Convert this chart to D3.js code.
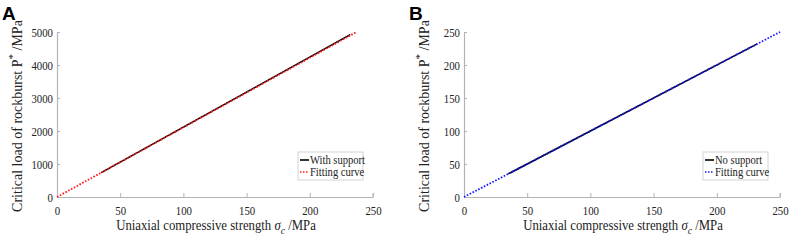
<!DOCTYPE html>
<html>
<head>
<meta charset="utf-8">
<script src="https://cdn.jsdelivr.net/npm/d3@7"></script>
<style>
  body { margin: 0; background: #fff; }
  svg text { font-family: "Liberation Serif", "Times New Roman", serif; }
</style>
</head>
<body>
<div id="chart"></div>
<script>
// panel A: with support
const supportStrength = [35, 232];
const supportLoad = [740, 4920];
const fitStrengthA = [0, 237];
const fitLoadA = [0, 5000];
const yTicksA = [0, 1000, 2000, 3000, 4000, 5000];

// panel B: no support
const noSupportStrength = [35, 232];
const noSupportLoad = [35, 232];
const fitStrengthB = [0, 250];
const fitLoadB = [0, 250];
const yTicksB = [0, 50, 100, 150, 200, 250];

const xTicks = [0, 50, 100, 150, 200, 250];

const svg = d3.select("#chart").append("svg")
    .attr("width", 789)
    .attr("height", 241);

const axisColor = "#b4b4b4";
const textColor = "#222";

function drawPanel(opt) {
    const x = d3.scaleLinear().domain([0, 250]).range([opt.left, opt.left + 316]);
    const y = d3.scaleLinear().domain([0, opt.yMax]).range([197, 32]);
    const g = svg.append("g");

    // panel letter
    g.append("text")
        .attr("x", opt.left - 55)
        .attr("y", 20)
        .style("font-family", "'Liberation Sans', Arial, sans-serif")
        .style("font-weight", "bold")
        .style("font-size", "19px")
        .text(opt.letter);

    // axes
    const xAxis = g.append("g")
        .attr("transform", "translate(0,197)")
        .call(d3.axisBottom(x).tickValues(xTicks).tickFormat(d3.format("d"))
            .tickSizeInner(-4).tickSizeOuter(0).tickPadding(8));
    const yAxis = g.append("g")
        .attr("transform", `translate(${opt.left},0)`)
        .call(d3.axisLeft(y).tickValues(opt.yTicks).tickFormat(d3.format("d"))
            .tickSizeInner(-3).tickSizeOuter(0).tickPadding(5));
    [xAxis, yAxis].forEach(a => {
        a.attr("font-size", 13.5);
        a.select(".domain").attr("stroke", axisColor).attr("stroke-width", 1.2);
        a.selectAll(".tick line").attr("stroke", axisColor);
        a.selectAll(".tick text")
            .attr("fill", textColor)
            .attr("transform", "scale(0.8,1)");
    });
    // right-end tick on x axis
    g.append("line")
        .attr("x1", x(250)).attr("x2", x(250))
        .attr("y1", 197).attr("y2", 193)
        .attr("stroke", axisColor);

    // axis titles (the original lettering is a bit condensed)
    const xt = g.append("g")
        .attr("transform", `translate(${opt.left + 159},230) scale(0.88,1)`)
        .append("text")
        .attr("text-anchor", "middle")
        .attr("fill", textColor)
        .style("font-size", "14.5px");
    xt.append("tspan").text("Uniaxial compressive strength ");
    xt.append("tspan").style("font-style", "italic").text("σ");
    xt.append("tspan").style("font-style", "italic").style("font-size", "11px").attr("dy", 4).text("c");
    xt.append("tspan").attr("dy", -4).text(" /MPa");

    const yt = g.append("text")
        .attr("transform", `translate(${opt.left - 35},116) rotate(-90)`)
        .attr("text-anchor", "middle")
        .attr("fill", textColor)
        .style("font-size", "14px");
    yt.append("tspan").text("Critical load of rockburst P");
    yt.append("tspan").style("font-size", "11px").attr("dy", -6).text("*");
    yt.append("tspan").attr("dy", 6).text(" /MPa");

    const line = d3.line().x(d => x(d[0])).y(d => y(d[1]));

    g.append("path")
        .datum(d3.zip(opt.dataX, opt.dataY))
        .attr("fill", "none")
        .attr("stroke", "#000")
        .attr("stroke-width", 1.6)
        .attr("d", line);

    g.append("path")
        .datum(d3.zip(opt.fitX, opt.fitY))
        .attr("fill", "none")
        .attr("stroke", opt.fitColor)
        .attr("stroke-width", 1.8)
        .attr("stroke-dasharray", "1.6,1.6")
        .attr("d", line);

    // legend
    const lg = g.append("g").attr("transform", `translate(${opt.legendX},152)`);
    lg.append("rect")
        .attr("width", 65).attr("height", 28)
        .attr("fill", "#fff")
        .attr("stroke", "#c8c8c8")
        .attr("stroke-width", 0.8);
    lg.append("line")
        .attr("x1", 2).attr("x2", 11).attr("y1", 8).attr("y2", 8)
        .attr("stroke", "#000").attr("stroke-width", 1.6);
    lg.append("line")
        .attr("x1", 2).attr("x2", 11).attr("y1", 20).attr("y2", 20)
        .attr("stroke", opt.fitColor).attr("stroke-width", 1.6)
        .attr("stroke-dasharray", "1.5,1.5");
    const lt = lg.append("g").attr("transform", "translate(12,0) scale(0.88,1)");
    lt.append("text").attr("y", 12).attr("fill", textColor)
        .style("font-size", "12px").text(opt.dataName);
    lt.append("text").attr("y", 24).attr("fill", textColor)
        .style("font-size", "12px").text("Fitting curve");
}

drawPanel({
    letter: "A", left: 57, yMax: 5000, yTicks: yTicksA,
    dataX: supportStrength, dataY: supportLoad,
    fitX: fitStrengthA, fitY: fitLoadA,
    fitColor: "#ff1a1a", dataName: "With support", legendX: 298
});

drawPanel({
    letter: "B", left: 464, yMax: 250, yTicks: yTicksB,
    dataX: noSupportStrength, dataY: noSupportLoad,
    fitX: fitStrengthB, fitY: fitLoadB,
    fitColor: "#1a1aff", dataName: "No support", legendX: 703
});
</script>
</body>
</html>
